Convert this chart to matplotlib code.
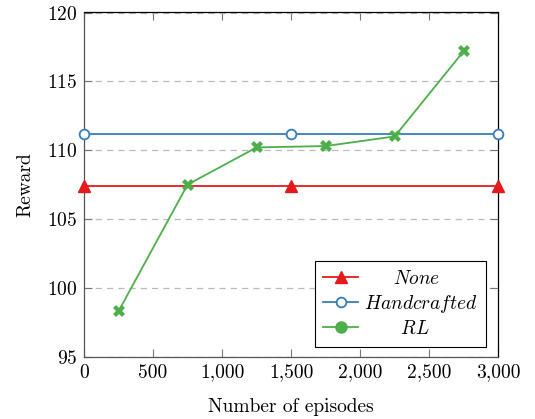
import matplotlib
matplotlib.use('Agg')
import matplotlib.pyplot as plt
from matplotlib.lines import Line2D
from matplotlib.ticker import FuncFormatter

plt.rcParams['font.family'] = 'serif'
plt.rcParams['font.serif'] = ['cmr10']
plt.rcParams['mathtext.fontset'] = 'cm'
plt.rcParams['axes.formatter.use_mathtext'] = True
plt.rcParams['font.size'] = 14

# data
none_x = [0, 1500, 3000]
none_y = [107.4, 107.4, 107.4]
hand_x = [0, 1500, 3000]
hand_y = [111.2, 111.2, 111.2]
rl_x = [250, 750, 1250, 1750, 2250, 2750]
rl_y = [98.3, 107.5, 110.2, 110.3, 111.0, 117.2]
x_ticks = [0, 500, 1000, 1500, 2000, 2500, 3000]
y_ticks = [95, 100, 105, 110, 115, 120]
names = ['None', 'Handcrafted', 'RL']

red = '#e41a1c'
blue = '#377eb8'
green = '#4daf4a'

fig = plt.figure(figsize=(5.35, 4.19), dpi=100)
ax = fig.add_axes([84 / 535, 1 - 356.7 / 419, (498.3 - 84) / 535, (356.7 - 12.5) / 419])

ax.plot(none_x, none_y, color=red, lw=1.3, marker='^', ms=8.5, clip_on=False, zorder=3)
ax.plot(hand_x, hand_y, color=blue, lw=1.3, marker='o', ms=7, mfc='white',
        mec=blue, mew=1.3, clip_on=False, zorder=3)
ax.plot(rl_x, rl_y, color=green, lw=1.3, marker='X', ms=9, mew=0, clip_on=False, zorder=3)

ax.set_xlim(0, 3000)
ax.set_ylim(95, 120)
ax.set_xticks(x_ticks)
ax.set_yticks(y_ticks)
ax.xaxis.set_major_formatter(FuncFormatter(lambda v, p: f'{int(v):,}'))
ax.tick_params(direction='in', top=True, right=True, length=6, width=0.8,
               color='#777777', pad=5)
ax.yaxis.grid(True, linestyle=(0, (5, 4)), color='#bbbbbb', lw=0.9)
ax.set_axisbelow(True)
for s in ['left', 'bottom']:
    ax.spines[s].set_color('#555555')
for s in ax.spines.values():
    s.set_linewidth(0.9)

ax.set_xlabel('Number of episodes', labelpad=12)
ax.set_ylabel('Reward', labelpad=9)

# legend: pgfplots-style, labels centred in their column
fsize_px = 14 * 100 / 72
renderer = fig.canvas.get_renderer()
raw = [r'$\mathit{%s}$' % n for n in names]
widths = []
for s in raw:
    t = fig.text(0, 0, s)
    widths.append(t.get_window_extent(renderer).width)
    t.remove()
wmax = max(widths)
labels = []
for n, w in zip(names, widths):
    pad = (wmax - w) / 2 / fsize_px
    labels.append(r'$\hspace{%.3f}\mathit{%s}\hspace{%.3f}$' % (pad, n, pad))

handles = [
    Line2D([], [], color=red, lw=1.3, marker='^', ms=8.5),
    Line2D([], [], color=blue, lw=1.3, marker='o', ms=7, mfc='white', mec=blue, mew=1.3),
    Line2D([], [], color=green, lw=1.3, marker='o', ms=8),
]
leg = ax.legend(handles, labels, loc='lower right', bbox_to_anchor=(0.971, 0.029),
                borderaxespad=0, fancybox=False, edgecolor='black', framealpha=1,
                handlelength=1.8, borderpad=0.45, labelspacing=0.25, handletextpad=0.3)
leg.get_frame().set_linewidth(0.8)

fig.savefig('out.png', dpi=100)
